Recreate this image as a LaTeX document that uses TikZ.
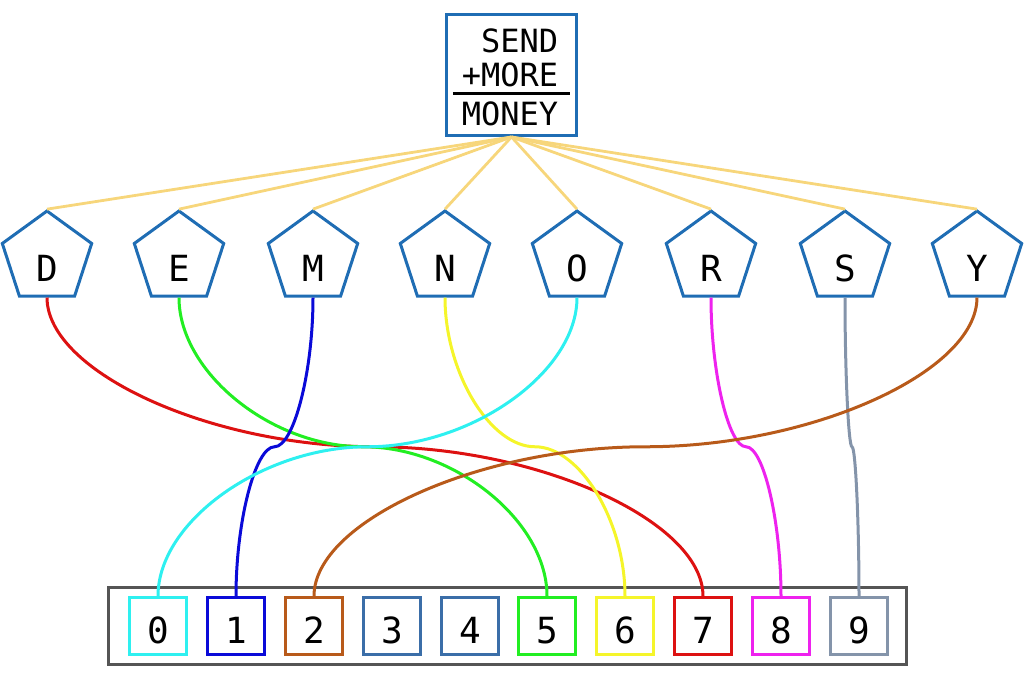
\documentclass[tikz,border=0pt]{standalone}
\usepackage{fontspec}
\setmonofont{DejaVu Sans Mono}
\usetikzlibrary{shapes.geometric,calc}

\definecolor{frameblue}{HTML}{1F6DB4}
\definecolor{sumyellow}{HTML}{F7D67B}
\definecolor{boxgray}{HTML}{555555}
\definecolor{cyanx}{HTML}{2EF0F0}
\definecolor{bluex}{HTML}{0A0AD8}
\definecolor{brownx}{HTML}{B85A1A}
\definecolor{steelx}{HTML}{3B6EA8}
\definecolor{greenx}{HTML}{22EE22}
\definecolor{yellowx}{HTML}{F5F52A}
\definecolor{redx}{HTML}{DD1111}
\definecolor{magentax}{HTML}{EE22EE}
\definecolor{grayx}{HTML}{8494AA}

\begin{document}
\begin{tikzpicture}[x=0.5pt,y=-0.5pt]
\tikzset{letter/.style = {shape=regular polygon,regular polygon sides=5,draw=frameblue,line width=1.5pt,minimum size=47pt,inner sep=0pt,font=\fontsize{18pt}{20pt}\ttfamily,text height=23pt,text depth=0pt}}
\tikzset{digit/.style = {shape=rectangle,draw=#1,line width=1.5pt,minimum size=28.5pt,inner sep=0pt,font=\fontsize{18pt}{20pt}\ttfamily,text height=17pt,text depth=0pt}}
\tikzset{sum/.style = {draw=sumyellow,line width=1.4pt}}
\tikzset{link/.style = {line width=1.5pt}}
\tikzset{drop/.style = {to path={let \p1=(\tikztostart), \p2=(\tikztotarget) in .. controls (\x1,{0.5*(\y1+\y2)}) and ({0.5*(\x1+\x2)},\y2) .. (\tikztotarget)}}}
\tikzset{land/.style = {to path={let \p1=(\tikztostart), \p2=(\tikztotarget) in .. controls ({0.5*(\x1+\x2)},\y1) and (\x2,{0.5*(\y1+\y2)}) .. (\tikztotarget)}}}
\useasboundingbox (0,0) rectangle (1024,676);
% puzzle
\node[draw=frameblue,line width=1.5pt,minimum width=65pt,minimum height=60.5pt,inner sep=0pt,font=\fontsize{16pt}{17pt}\ttfamily] (puzzle) at (511.5,75)
  {\setlength{\arrayrulewidth}{1.5pt}\begin{tabular}{@{\hspace{4.5pt}}r@{\hspace{6pt}}}\rule{0pt}{18.6pt}SEND\\+MORE\\[-2pt]\hline\rule{0pt}{14.9pt}MONEY\end{tabular}};
% letters
\node[letter] (D) at (47,258)  {D};
\node[letter] (E) at (179,258) {E};
\node[letter] (M) at (313,258) {M};
\node[letter] (N) at (445,258) {N};
\node[letter] (O) at (577,258) {O};
\node[letter] (R) at (711,258) {R};
\node[letter] (S) at (845,258) {S};
\node[letter] (Y) at (977,258) {Y};
% digits
\node[draw=boxgray,line width=1.5pt,minimum width=399pt,minimum height=38.5pt,inner sep=0pt] (domain) at (507.5,626) {};
\node[digit=cyanx]    (d0) at (158,626) {0};
\node[digit=bluex]    (d1) at (236,626) {1};
\node[digit=brownx]   (d2) at (314,626) {2};
\node[digit=steelx]   (d3) at (392,626) {3};
\node[digit=steelx]   (d4) at (470,626) {4};
\node[digit=greenx]   (d5) at (547,626) {5};
\node[digit=yellowx]  (d6) at (625,626) {6};
\node[digit=redx]     (d7) at (703,626) {7};
\node[digit=magentax] (d8) at (781,626) {8};
\node[digit=grayx]    (d9) at (859,626) {9};
% sum edges
\draw[sum] (puzzle.south) -- (D.corner 1);
\draw[sum] (puzzle.south) -- (E.corner 1);
\draw[sum] (puzzle.south) -- (M.corner 1);
\draw[sum] (puzzle.south) -- (N.corner 1);
\draw[sum] (puzzle.south) -- (O.corner 1);
\draw[sum] (puzzle.south) -- (R.corner 1);
\draw[sum] (puzzle.south) -- (S.corner 1);
\draw[sum] (puzzle.south) -- (Y.corner 1);
% assignment edges
\coordinate (mD) at ($(D.south)!0.5!(d7.north)$);
\coordinate (mE) at ($(E.south)!0.5!(d5.north)$);
\coordinate (mM) at ($(M.south)!0.5!(d1.north)$);
\coordinate (mN) at ($(N.south)!0.5!(d6.north)$);
\coordinate (mO) at ($(O.south)!0.5!(d0.north)$);
\coordinate (mR) at ($(R.south)!0.5!(d8.north)$);
\coordinate (mS) at ($(S.south)!0.5!(d9.north)$);
\coordinate (mY) at ($(Y.south)!0.5!(d2.north)$);
\draw[link,redx]     (D.south) to[drop] (mD) to[land] (d7.north);
\draw[link,greenx]   (E.south) to[drop] (mE) to[land] (d5.north);
\draw[link,bluex]    (M.south) to[drop] (mM) to[land] (d1.north);
\draw[link,yellowx]  (N.south) to[drop] (mN) to[land] (d6.north);
\draw[link,cyanx]    (O.south) to[drop] (mO) to[land] (d0.north);
\draw[link,magentax] (R.south) to[drop] (mR) to[land] (d8.north);
\draw[link,grayx]    (S.south) to[drop] (mS) to[land] (d9.north);
\draw[link,brownx]   (Y.south) to[drop] (mY) to[land] (d2.north);
\end{tikzpicture}
\end{document}
